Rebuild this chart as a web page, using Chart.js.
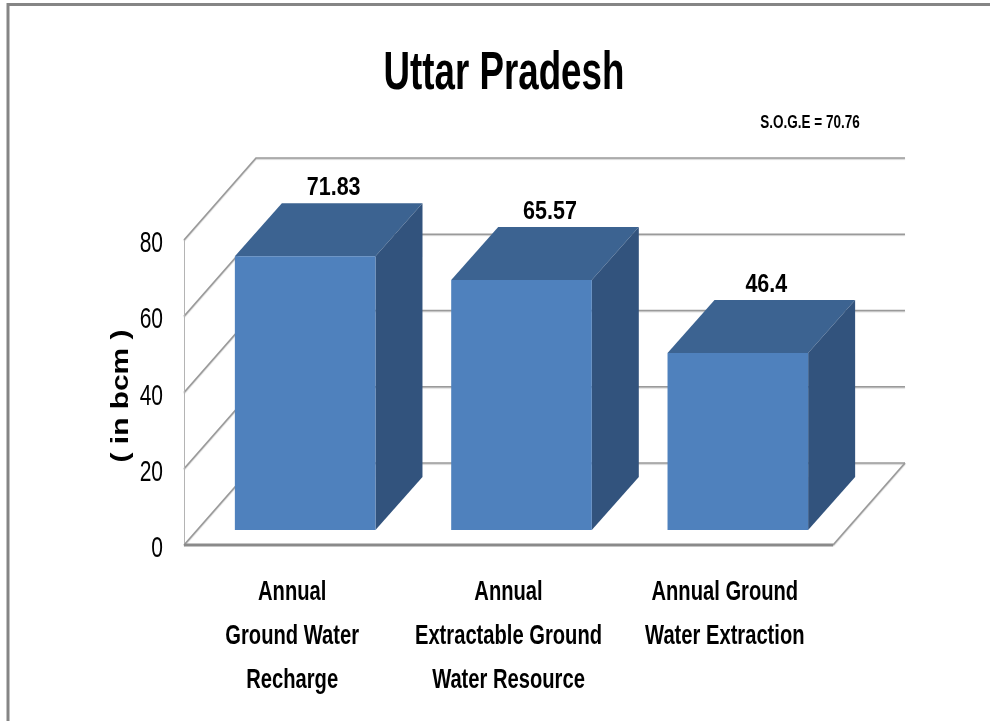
<!DOCTYPE html>
<html>
<head>
<meta charset="utf-8">
<title>Uttar Pradesh</title>
<script src="https://cdn.jsdelivr.net/npm/chart.js@4/dist/chart.umd.min.js"></script>
<style>
    html, body { margin: 0; padding: 0; background: #fff; }
    canvas { display: block; }
</style>
</head>
<body>
<canvas id="chart" width="990" height="721"></canvas>
<script>
// chart data
const categories = [
    [`Annual`, `Ground Water`, `Recharge`],
    [`Annual`, `Extractable Ground`, `Water Resource`],
    [`Annual Ground`, `Water Extraction`]
];
const values = [71.83, 65.57, 46.4];
const yTicks = [0, 20, 40, 60, 80];
const chartTitle = `Uttar Pradesh`;
const stageNote = `S.O.G.E = 70.76`;
const axisTitle = `( in bcm )`;

// 3d look: depth of the walls, where the bars sit, and how deep they are
const wallDepth = { x: 72, y: -82 };
const barShift = { x: 13, y: -15 };
const barDepth = { x: 47, y: -53 };

const FONT = `"Liberation Sans", Arial, sans-serif`;

function squeezeText(ctx, text, x, y, font, sx, align) {
    ctx.save();
    ctx.font = font;
    ctx.textAlign = align || `center`;
    ctx.textBaseline = `alphabetic`;
    ctx.fillStyle = `#000`;
    ctx.translate(x, y);
    ctx.scale(sx, 1);
    ctx.fillText(text, 0, 0);
    ctx.restore();
}

function line(ctx, pts) {
    ctx.beginPath();
    ctx.moveTo(pts[0][0], pts[0][1]);
    for (let i = 1; i < pts.length; i++) ctx.lineTo(pts[i][0], pts[i][1]);
    ctx.stroke();
}

function poly(ctx, pts, fill) {
    ctx.beginPath();
    ctx.moveTo(pts[0][0], pts[0][1]);
    for (let i = 1; i < pts.length; i++) ctx.lineTo(pts[i][0], pts[i][1]);
    ctx.closePath();
    ctx.fillStyle = fill;
    ctx.fill();
}

const box3d = {
    id: `box3d`,
    beforeDatasetsDraw(chart) {
        const ctx = chart.ctx;
        const { left, right, top, bottom } = chart.chartArea;
        const ys = chart.scales.y;
        const dx = wallDepth.x, dy = wallDepth.y;
        ctx.save();
        ctx.shadowColor = `rgba(0,0,0,0.2)`;
        ctx.shadowBlur = 1;
        ctx.shadowOffsetY = 1;
        ctx.strokeStyle = `#9a9a9a`;
        ctx.lineWidth = 1.6;
        // side wall + back wall grid
        for (const t of yTicks) {
            const y = ys.getPixelForValue(t);
            line(ctx, [[left, y], [left + dx, y + dy], [right + dx, y + dy]]);
        }
        line(ctx, [[right, bottom], [right + dx, bottom + dy]]);
        ctx.shadowColor = `rgba(0,0,0,0)`;
        ctx.strokeStyle = `#b4b4b4`;
        ctx.lineWidth = 1;
        line(ctx, [[left + 0.5, bottom], [left + 0.5, top]]);
        // floor front edge
        ctx.strokeStyle = `#8a8a8a`;
        ctx.lineWidth = 3;
        line(ctx, [[left, bottom], [right, bottom]]);
        ctx.restore();
    },
    afterDatasetsDraw(chart) {
        const ctx = chart.ctx;
        const meta = chart.getDatasetMeta(0);
        const dx = barDepth.x, dy = barDepth.y;
        ctx.save();
        meta.data.forEach((bar, i) => {
            const l = bar.x - bar.width / 2 + barShift.x;
            const r = bar.x + bar.width / 2 + barShift.x;
            const t = bar.y + barShift.y;
            const b = bar.base + barShift.y;
            poly(ctx, [[l, t], [l + dx, t + dy], [r + dx, t + dy], [r, t]], `#3c6391`);
            poly(ctx, [[r, t], [r + dx, t + dy], [r + dx, b + dy], [r, b]], `#32537d`);
            poly(ctx, [[l, t], [r, t], [r, b], [l, b]], `#4f81bd`);
            // value on top
            squeezeText(ctx, String(values[i]), bar.x + barShift.x + dx / 2 + 5, t + dy - 8,
                `bold 25px ${FONT}`, 0.86);
        });
        ctx.restore();
    },
    afterDraw(chart) {
        const ctx = chart.ctx;
        const { left } = chart.chartArea;
        const ys = chart.scales.y, xs = chart.scales.x;

        squeezeText(ctx, chartTitle, 504, 89, `bold 54px ${FONT}`, 0.68);
        squeezeText(ctx, stageNote, 810, 128, `bold 18px ${FONT}`, 0.75);

        // value axis labels
        for (const t of yTicks) {
            squeezeText(ctx, String(t), left - 21, ys.getPixelForValue(t) + 12,
                `30px ${FONT}`, 0.7, `right`);
        }

        // category labels
        categories.forEach((lines, i) => {
            const x = xs.getPixelForValue(i);
            lines.forEach((txt, k) => {
                squeezeText(ctx, txt, x, 600 + k * 44, `bold 28px ${FONT}`, 0.72);
            });
        });

        // axis title
        ctx.save();
        ctx.translate(128, 396);
        ctx.rotate(-Math.PI / 2);
        ctx.scale(1.3, 1);
        ctx.font = `bold 23px ${FONT}`;
        ctx.textAlign = `center`;
        ctx.textBaseline = `alphabetic`;
        ctx.fillStyle = `#000`;
        ctx.fillText(axisTitle, 0, 0);
        ctx.restore();

        // outer frame (top and left edges show)
        ctx.save();
        ctx.strokeStyle = `#858585`;
        ctx.lineWidth = 3;
        line(ctx, [[8, 721], [8, 4.5], [990, 4.5]]);
        ctx.restore();
    }
};

new Chart(document.getElementById(`chart`).getContext(`2d`), {
    type: `bar`,
    data: {
        labels: categories,
        datasets: [{
            data: values,
            backgroundColor: `rgba(0,0,0,0)`,
            borderWidth: 0,
            barPercentage: 0.65,
            categoryPercentage: 1
        }]
    },
    options: {
        responsive: false,
        animation: false,
        devicePixelRatio: 1,
        layout: { padding: { left: 184, right: 157, top: 240, bottom: 176 } },
        plugins: {
            legend: { display: false },
            tooltip: { enabled: false }
        },
        scales: {
            x: { display: false },
            y: { display: false, min: 0, max: 80 }
        }
    },
    plugins: [box3d]
});
</script>
</body>
</html>
